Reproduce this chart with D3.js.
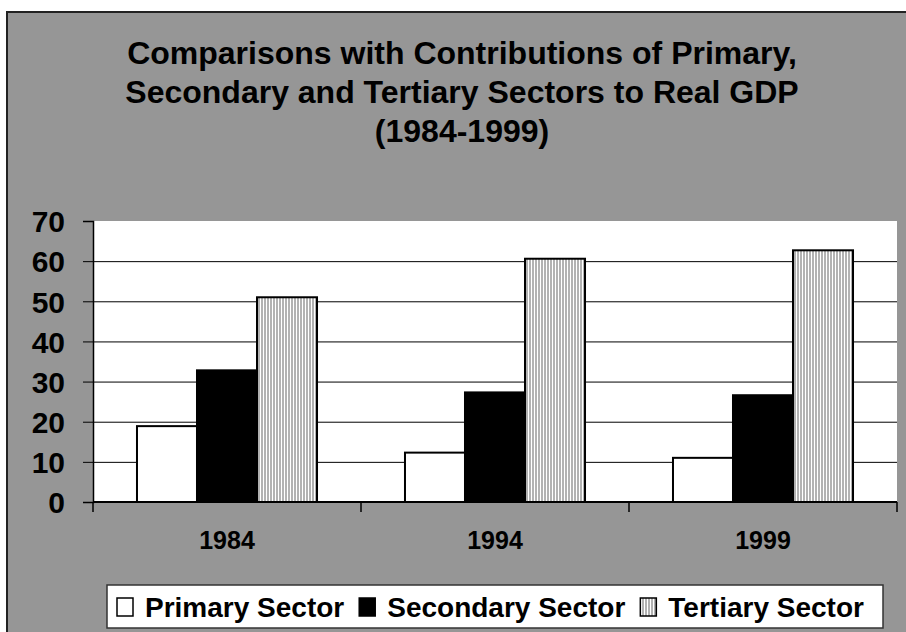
<!DOCTYPE html>
<html>
<head>
<meta charset="utf-8">
<script src="https://cdn.jsdelivr.net/npm/d3@7"></script>
<style>
  body { margin: 0; background: #fff; }
  text { font-family: "Liberation Sans", Arial, sans-serif; font-weight: bold; fill: #000; }
</style>
</head>
<body>
<div id="chart"></div>
<script>
// data
var years = ["1984", "1994", "1999"];
var sectors = ["Primary Sector", "Secondary Sector", "Tertiary Sector"];
var primary = [18.9, 12.3, 11.0];
var secondary = [32.8, 27.3, 26.6];
var tertiary = [51.0, 60.6, 62.7];
var yTicks = [0, 10, 20, 30, 40, 50, 60, 70];
var titleLines = ["Comparisons with Contributions of Primary,",
                  "Secondary and Tertiary Sectors to Real GDP",
                  "(1984-1999)"];

var seriesValues = [primary, secondary, tertiary];

var W = 906, H = 632;
var plot = {left: 93, right: 897, top: 221, bottom: 502};

var svg = d3.select("#chart").append("svg")
    .attr("width", W)
    .attr("height", H);

// stripe pattern for the tertiary bars
var defs = svg.append("defs");
var pat = defs.append("pattern")
    .attr("id", "stripes")
    .attr("patternUnits", "userSpaceOnUse")
    .attr("width", 3)
    .attr("height", 10);
pat.append("rect").attr("width", 3).attr("height", 10).attr("fill", "#fff");
pat.append("rect").attr("width", 2).attr("height", 10).attr("fill", "#b2b2b2");

var fills = ["#fff", "#000", "url(#stripes)"];

// chart frame
svg.append("rect")
    .attr("x", 7).attr("y", 12)
    .attr("width", W + 10).attr("height", H + 10)
    .attr("fill", "#969696")
    .attr("stroke", "#222")
    .attr("stroke-width", 2);

// title
svg.append("g").selectAll("text")
    .data(titleLines)
    .join("text")
    .attr("x", 462)
    .attr("y", function(d, i) { return 64 + i * 39; })
    .attr("text-anchor", "middle")
    .style("font-size", "32px")
    .text(function(d) { return d; });

// plot area
svg.append("rect")
    .attr("x", plot.left).attr("y", plot.top)
    .attr("width", plot.right - plot.left)
    .attr("height", plot.bottom - plot.top)
    .attr("fill", "#fff");

var y = d3.scaleLinear()
    .domain([0, 70])
    .range([plot.bottom, plot.top]);

var x0 = d3.scaleBand()
    .domain(years)
    .range([plot.left, plot.right]);

var x1 = d3.scaleBand()
    .domain(sectors)
    .range([0, x0.bandwidth()])
    .paddingOuter(0.733);

// gridlines
svg.append("g")
    .selectAll("line")
    .data(yTicks.filter(function(d) { return d > 0 && d < 70; }))
    .join("line")
    .attr("x1", plot.left).attr("x2", plot.right)
    .attr("y1", function(d) { return y(d) + 0.5; })
    .attr("y2", function(d) { return y(d) + 0.5; })
    .attr("stroke", "#000")
    .attr("stroke-width", 1);

// bars
var groups = svg.append("g")
    .selectAll("g")
    .data(years)
    .join("g")
    .attr("transform", function(d) { return "translate(" + x0(d) + ",0)"; });

groups.selectAll("rect")
    .data(function(d, i) {
        return sectors.map(function(s, j) { return {sector: s, value: seriesValues[j][i], idx: j}; });
    })
    .join("rect")
    .attr("x", function(d) { return x1(d.sector); })
    .attr("y", function(d) { return y(d.value); })
    .attr("width", x1.bandwidth())
    .attr("height", function(d) { return plot.bottom - y(d.value); })
    .attr("fill", function(d) { return fills[d.idx]; })
    .attr("stroke", "#000")
    .attr("stroke-width", 2);

// y axis
var yAxis = svg.append("g")
    .attr("transform", "translate(" + plot.left + ",0)")
    .call(d3.axisLeft(y).tickValues(yTicks).tickSize(10).tickPadding(18));
yAxis.selectAll("text")
    .style("font-size", "30px")
    .attr("dy", "0.36em");
yAxis.select(".domain").attr("stroke", "#000").attr("stroke-width", 1.5);
yAxis.selectAll(".tick line").attr("stroke", "#000").attr("stroke-width", 1);

// x axis with ticks between categories
var xAxis = svg.append("g")
    .attr("transform", "translate(0," + plot.bottom + ")");
xAxis.append("line")
    .attr("x1", plot.left).attr("x2", plot.right)
    .attr("stroke", "#000").attr("stroke-width", 2);
var bounds = years.map(function(d) { return x0(d); }).concat([x0(years[years.length - 1]) + x0.bandwidth()]);
xAxis.selectAll(".sep")
    .data(bounds)
    .join("line")
    .attr("class", "sep")
    .attr("x1", function(d) { return d; }).attr("x2", function(d) { return d; })
    .attr("y1", 0).attr("y2", 10)
    .attr("stroke", "#000").attr("stroke-width", 1.5);
xAxis.selectAll(".lbl")
    .data(years)
    .join("text")
    .attr("class", "lbl")
    .attr("x", function(d) { return x0(d) + x0.bandwidth() / 2; })
    .attr("y", 47)
    .attr("text-anchor", "middle")
    .style("font-size", "25px")
    .text(function(d) { return d; });

// legend
var legend = svg.append("g");
legend.append("rect")
    .attr("x", 107).attr("y", 585)
    .attr("width", 776).attr("height", 43)
    .attr("fill", "#fff")
    .attr("stroke", "#333")
    .attr("stroke-width", 1.5);

var lx = 117;
sectors.forEach(function(s, i) {
    legend.append("rect")
        .attr("x", lx).attr("y", 598)
        .attr("width", 16).attr("height", 18)
        .attr("fill", fills[i])
        .attr("stroke", "#000")
        .attr("stroke-width", 1.5);
    var t = legend.append("text")
        .attr("x", lx + 28)
        .attr("y", 617)
        .style("font-size", "28px")
        .text(s);
    lx = lx + 28 + t.node().getComputedTextLength() + 15;
});
</script>
</body>
</html>
